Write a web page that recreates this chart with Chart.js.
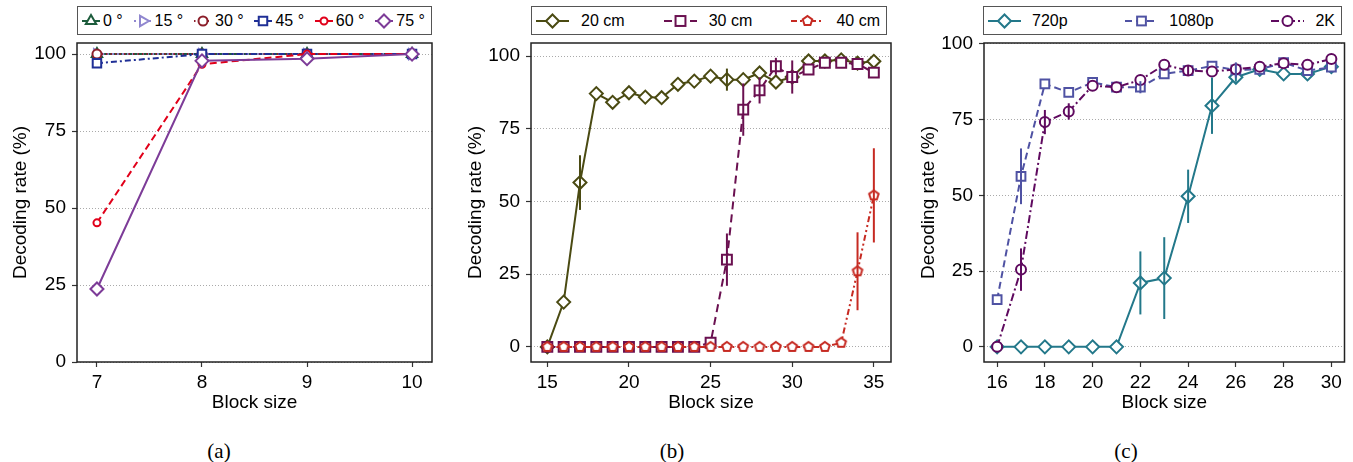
<!DOCTYPE html>
<html>
<head>
<meta charset="utf-8">
<script src="https://cdn.jsdelivr.net/npm/chart.js@4.4.0/dist/chart.umd.min.js"></script>
<style>
  html, body { margin: 0; padding: 0; background: #fff; }
  body { width: 1353px; height: 462px; position: relative; overflow: hidden; font-family: 'Liberation Sans', Arial, Helvetica, sans-serif; }
  canvas.panel { position: absolute; top: 0; }
  .legend { position: absolute; top: 6px; height: 29px; box-sizing: border-box; border: 1.5px solid #555; background: #fff;
    display: flex; align-items: center; justify-content: space-between; padding: 0 6px 0 4px; font-size: 16px; color: #000; z-index: 2; }
  .legend .item { display: flex; align-items: center; white-space: nowrap; }
  .legend svg { display: block; }
  .caption { position: absolute; top: 439px; font-family: 'Liberation Serif', 'Times New Roman', serif; font-size: 21px; transform: translateX(-50%); }
</style>
</head>
<body>
<canvas id="chartA" class="panel"></canvas>
<canvas id="chartB" class="panel"></canvas>
<canvas id="chartC" class="panel"></canvas>
<div id="legendA" class="legend"></div>
<div id="legendB" class="legend"></div>
<div id="legendC" class="legend"></div>
<div class="caption" style="left:219px">(a)</div>
<div class="caption" style="left:672px">(b)</div>
<div class="caption" style="left:1126px">(c)</div>
<script>
// (a) viewing angle
const blockA = [7, 8, 9, 10]
const angleLabels = ['0 °', '15 °', '30 °', '45 °', '60 °', '75 °']
const angle0 = [100, 100, 100, 100]
const angle15 = [100, 100, 100, 100]
const angle30 = [100, 100, 100, 100]
const angle45 = [97, 100, 100, 100]
const angle60 = [45.2, 96.7, 100, 100]
const angle75 = [23.7, 97.8, 98.5, 100]
const noErrA = [0, 0, 0, 0]

// (b) distance
const blockB = [15, 16, 17, 18, 19, 20, 21, 22, 23, 24, 25, 26, 27, 28, 29, 30, 31, 32, 33, 34, 35]
const distLabels = ['20 cm', '30 cm', '40 cm']
const dist20 = [0, 15.4, 56.5, 87.1, 84.1, 87.4, 85.9, 85.7, 90.3, 91.4, 93.1, 91.9, 91.9, 94.2, 91.1, 92.8, 98.3, 98.3, 98.7, 97.6, 98.2]
const dist20Err = [0, 0, 9.4, 0, 0, 0, 0, 0, 0, 0, 0, 3.8, 0, 0, 0, 0, 0, 0, 0, 0, 0]
const dist30 = [0, 0, 0, 0, 0, 0, 0, 0, 0, 0, 1.4, 30.0, 81.6, 88.2, 96.5, 92.8, 95.4, 97.7, 97.7, 97.3, 94.3]
const dist30Err = [0, 0, 0, 0, 0, 0, 0, 0, 0, 0, 0, 9, 9, 4.5, 2.9, 5.7, 0, 0, 0, 0, 0]
const dist40 = [0, 0, 0, 0, 0, 0, 0, 0, 0, 0, 0, 0, 0, 0, 0, 0, 0, 0, 1.4, 26.0, 52.1]
const dist40Err = [0, 0, 0, 0, 0, 0, 0, 0, 0, 0, 0, 0, 0, 0, 0, 0, 0, 0, 0, 13.4, 16.2]

// (c) resolution
const blockC = [16, 17, 18, 19, 20, 21, 22, 23, 24, 25, 26, 27, 28, 29, 30]
const resLabels = ['720p', '1080p', '2K']
const res720 = [0, 0, 0, 0, 0, 0, 21.1, 22.7, 49.7, 79.6, 89.0, 91.6, 90.1, 90.1, 92.5]
const res720Err = [0, 0, 0, 0, 0, 0, 10.4, 13.5, 8.8, 9.3, 1.5, 0, 0, 0, 0]
const res1080 = [15.6, 56.3, 86.8, 84.0, 87.3, 85.7, 85.7, 90.1, 91.2, 92.7, 91.4, 91.6, 93.8, 91.2, 92.3]
const res1080Err = [0, 9.2, 0, 0, 0, 0, 2, 0, 0, 0, 2.5, 0, 0, 0, 0]
const res2k = [0, 25.5, 74.2, 77.7, 86.2, 85.7, 88.1, 93.1, 91.2, 90.9, 91.6, 92.5, 93.6, 93.1, 95.0]
const res2kErr = [0, 7, 4, 2.7, 0, 0, 0, 0, 1.5, 0, 0, 0, 0, 0, 0]

const FONT = "'Liberation Sans', Arial, Helvetica, sans-serif"
const CANVAS_H = 430
const PLOT_TOP = 43
const PLOT_BOTTOM = 362
const X_AXIS_H = 52

function pentagonImage(color, r) {
  const size = Math.ceil(2 * r + 4)
  const c = document.createElement('canvas')
  c.width = c.height = size
  const g = c.getContext('2d')
  g.beginPath()
  for (let k = 0; k < 5; k++) {
    const a = -Math.PI / 2 + k * 2 * Math.PI / 5
    g.lineTo(size / 2 + r * Math.cos(a), size / 2 + r * Math.sin(a))
  }
  g.closePath()
  g.fillStyle = '#fff'
  g.fill()
  g.lineWidth = 2
  g.strokeStyle = color
  g.stroke()
  return c
}

function dataset(label, xs, ys, errs, st) {
  let pointStyle = st.shape
  if (st.shape === 'diamond') pointStyle = 'rectRot'
  if (st.shape === 'triangleRight') pointStyle = 'triangle'
  if (st.shape === 'pentagon') pointStyle = pentagonImage(st.color, st.r)
  return {
    label,
    data: xs.map((x, i) => ({ x, y: ys[i] })),
    errors: errs,
    borderColor: st.color,
    backgroundColor: st.color,
    borderWidth: 2,
    borderDash: st.dash,
    pointStyle,
    pointRotation: st.shape === 'triangleRight' ? 90 : 0,
    pointRadius: st.r,
    pointHoverRadius: st.r,
    pointBorderWidth: 2,
    pointBorderColor: st.color,
    pointBackgroundColor: '#fff',
    tension: 0,
    order: st.order,
  }
}

function icon(st, w) {
  const h = 20, cy = 10, cx = w / 2, r = st.r
  const poly = pts => `<polygon points="${pts.map(p => p.join(',')).join(' ')}"/>`
  const ring = (n, start) => Array.from({ length: n }, (_, k) => {
    const a = start + k * 2 * Math.PI / n
    return [cx + r * Math.cos(a), cy + r * Math.sin(a)]
  })
  let m
  switch (st.shape) {
    case 'circle': m = `<circle cx="${cx}" cy="${cy}" r="${r}"/>`; break
    case 'rect': {
      const s = r * Math.SQRT1_2
      m = `<rect x="${cx - s}" y="${cy - s}" width="${2 * s}" height="${2 * s}"/>`
      break
    }
    case 'diamond': m = poly(ring(4, -Math.PI / 2)); break
    case 'triangle': m = poly(ring(3, -Math.PI / 2)); break
    case 'triangleRight': m = poly(ring(3, 0)); break
    case 'pentagon': m = poly(ring(5, -Math.PI / 2)); break
  }
  return `<svg width="${w}" height="${h}"><line x1="0" y1="${cy}" x2="${w}" y2="${cy}" stroke="${st.color}" stroke-width="2" stroke-dasharray="${st.dash.join(' ')}"/>` +
    `<g fill="#fff" stroke="${st.color}" stroke-width="2">${m}</g></svg>`
}

const framePlugin = {
  id: 'frame',
  afterDatasetsDraw(chart) {
    const { ctx, scales: { x, y } } = chart
    ctx.save()
    ctx.lineWidth = 2
    ctx.setLineDash([])
    chart.data.datasets.forEach(ds => {
      ds.data.forEach((p, i) => {
        const e = ds.errors[i]
        if (!e) return
        const px = x.getPixelForValue(p.x)
        ctx.strokeStyle = ds.borderColor
        ctx.beginPath()
        ctx.moveTo(px, y.getPixelForValue(p.y - e))
        ctx.lineTo(px, y.getPixelForValue(p.y + e))
        ctx.stroke()
      })
    })
    ctx.restore()
  },
  afterDraw(chart) {
    const { ctx, chartArea: a } = chart
    ctx.save()
    ctx.strokeStyle = '#222'
    ctx.lineWidth = 1.5
    ctx.strokeRect(a.left, a.top, a.right - a.left, a.bottom - a.top)
    ctx.restore()
  },
}

function makePanel(p) {
  const canvas = document.getElementById(p.canvas)
  canvas.width = p.width
  canvas.height = CANVAS_H
  canvas.style.left = p.left + 'px'

  const legend = document.getElementById(p.legend)
  legend.style.left = p.legendLeft + 'px'
  legend.style.width = p.legendWidth + 'px'
  legend.innerHTML = p.series.map(s =>
    `<div class="item">${icon(s.style, p.iconW)}<span style="margin-left:${p.textGap}px">${s.label}</span></div>`).join('')

  const tickFont = { family: FONT, size: 19 }
  const titleFont = { family: FONT, size: 19 }

  new Chart(canvas, {
    type: 'line',
    data: { datasets: p.series.map(s => dataset(s.label, p.xs, s.values, s.errors, s.style)) },
    options: {
      responsive: false,
      animation: false,
      devicePixelRatio: 1,
      layout: { padding: { top: PLOT_TOP, bottom: CANVAS_H - PLOT_BOTTOM - X_AXIS_H, left: 0, right: p.width - p.plotRight } },
      plugins: { legend: { display: false }, tooltip: { enabled: false } },
      scales: {
        x: {
          type: 'linear', min: p.xRange[0], max: p.xRange[1],
          afterFit: s => { s.height = X_AXIS_H },
          grid: { drawOnChartArea: false, tickLength: 5, tickColor: '#333', tickWidth: 1.2 },
          border: { display: false },
          ticks: { stepSize: p.xStep, includeBounds: false, padding: 4, color: '#000', font: tickFont, maxRotation: 0, autoSkip: false },
          title: { display: true, text: 'Block size', color: '#000', font: titleFont, padding: 0 },
        },
        y: {
          type: 'linear', min: p.yRange[0], max: p.yRange[1],
          afterFit: s => { s.width = p.yWidth },
          grid: { color: '#aaa', lineWidth: 1, tickLength: 5, tickColor: '#333', tickWidth: 1.2 },
          border: { display: false, dash: [1, 2] },
          ticks: { stepSize: 25, includeBounds: false, padding: 6, color: '#000', font: tickFont },
          title: { display: true, text: 'Decoding rate (%)', color: '#000', font: titleFont, padding: { top: 9, bottom: 0 } },
        },
      },
    },
    plugins: [framePlugin],
  })
}

makePanel({
  canvas: 'chartA', legend: 'legendA', left: 0, width: 445, plotRight: 432, yWidth: 77,
  xs: blockA, xRange: [6.81, 10.19], xStep: 1, yRange: [0, 103.6],
  legendLeft: 77, legendWidth: 355, iconW: 18, textGap: 3,
  series: [
    { label: angleLabels[0], values: angle0, errors: noErrA, style: { color: '#1d5c3c', dash: [], shape: 'triangle', r: 6, order: 6 } },
    { label: angleLabels[1], values: angle15, errors: noErrA, style: { color: '#9087cf', dash: [2, 3], shape: 'triangleRight', r: 6, order: 5 } },
    { label: angleLabels[2], values: angle30, errors: noErrA, style: { color: '#8c1f2b', dash: [1.5, 3], shape: 'circle', r: 4.5, order: 4 } },
    { label: angleLabels[3], values: angle45, errors: noErrA, style: { color: '#1f2f96', dash: [6, 3, 2, 3], shape: 'rect', r: 6, order: 3 } },
    { label: angleLabels[4], values: angle60, errors: noErrA, style: { color: '#e1001a', dash: [7, 4], shape: 'circle', r: 3.5, order: 2 } },
    { label: angleLabels[5], values: angle75, errors: noErrA, style: { color: '#7d3c98', dash: [], shape: 'diamond', r: 6.5, order: 1 } },
  ],
})

makePanel({
  canvas: 'chartB', legend: 'legendB', left: 455, width: 445, plotRight: 888, yWidth: 76,
  xs: blockB, xRange: [14.0, 36.05], xStep: 5, yRange: [-5.2, 104.5],
  legendLeft: 531, legendWidth: 356, iconW: 33, textGap: 12,
  series: [
    { label: distLabels[0], values: dist20, errors: dist20Err, style: { color: '#4a4a12', dash: [], shape: 'diamond', r: 6.5, order: 3 } },
    { label: distLabels[1], values: dist30, errors: dist30Err, style: { color: '#6a1050', dash: [8, 5], shape: 'rect', r: 7, order: 2 } },
    { label: distLabels[2], values: dist40, errors: dist40Err, style: { color: '#c62a22', dash: [6, 3, 2, 3, 2, 3], shape: 'pentagon', r: 5, order: 1 } },
  ],
})

makePanel({
  canvas: 'chartC', legend: 'legendC', left: 908, width: 445, plotRight: 1342, yWidth: 76,
  xs: blockC, xRange: [15.45, 30.55], xStep: 2, yRange: [-5, 100.3],
  legendLeft: 983, legendWidth: 359, iconW: 33, textGap: 11,
  series: [
    { label: resLabels[0], values: res720, errors: res720Err, style: { color: '#23788a', dash: [], shape: 'diamond', r: 6.5, order: 3 } },
    { label: resLabels[1], values: res1080, errors: res1080Err, style: { color: '#4f52a3', dash: [7, 4], shape: 'rect', r: 6.2, order: 2 } },
    { label: resLabels[2], values: res2k, errors: res2kErr, style: { color: '#5f0a5f', dash: [8, 3, 2, 3], shape: 'circle', r: 5, order: 1 } },
  ],
})
</script>
</body>
</html>
